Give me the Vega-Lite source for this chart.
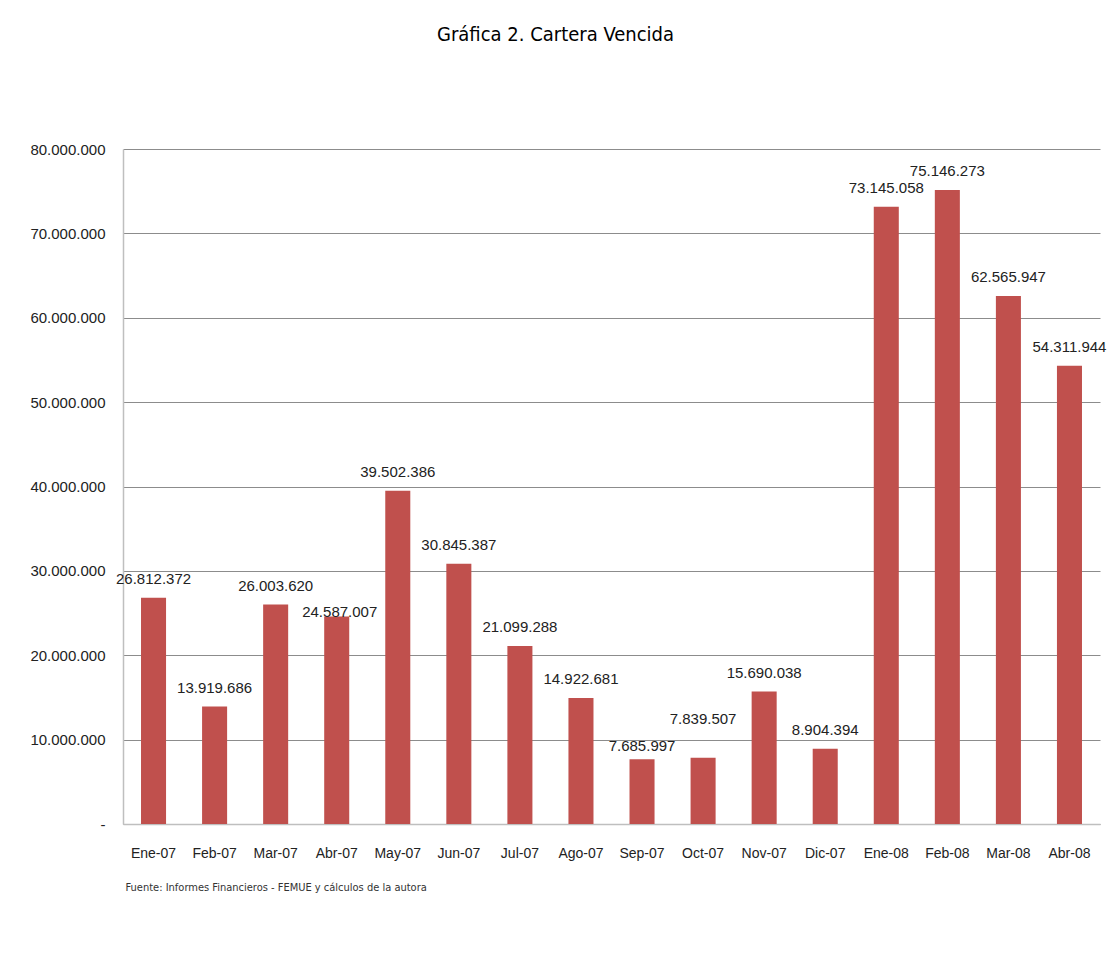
{
  "$schema": "https://vega.github.io/schema/vega-lite/v6.json",
  "width": 977,
  "height": 675,
  "autosize": {"type": "none"},
  "padding": {"left": 123, "top": 149, "right": 17, "bottom": 152},
  "background": "white",
  "config": {
    "locale": {"number": {"decimal": ",", "thousands": ".", "grouping": [3], "currency": ["$", ""]}},
    "view": {"stroke": null},
    "font": "Liberation Sans"
  },
  "title": {
    "text": "Gráfica 2.  Cartera Vencida",
    "anchor": "middle",
    "dx": -56,
    "offset": 97,
    "fontSize": 20,
    "font": "DejaVu Sans Condensed, Liberation Sans, sans-serif",
    "fontWeight": "normal",
    "color": "#000000"
  },
  "data": {
    "values": [
      {"mes": "Ene-07", "valor": 26812372},
      {"mes": "Feb-07", "valor": 13919686},
      {"mes": "Mar-07", "valor": 26003620},
      {"mes": "Abr-07", "valor": 24587007},
      {"mes": "May-07", "valor": 39502386},
      {"mes": "Jun-07", "valor": 30845387},
      {"mes": "Jul-07", "valor": 21099288},
      {"mes": "Ago-07", "valor": 14922681},
      {"mes": "Sep-07", "valor": 7685997},
      {"mes": "Oct-07", "valor": 7839507},
      {"mes": "Nov-07", "valor": 15690038},
      {"mes": "Dic-07", "valor": 8904394},
      {"mes": "Ene-08", "valor": 73145058},
      {"mes": "Feb-08", "valor": 75146273},
      {"mes": "Mar-08", "valor": 62565947},
      {"mes": "Abr-08", "valor": 54311944}
    ]
  },
  "encoding": {
    "x": {
      "field": "mes",
      "type": "nominal",
      "sort": null,
      "scale": {"paddingInner": 0.59, "paddingOuter": 0.295},
      "axis": {
        "title": "Fuente: Informes Financieros - FEMUE y cálculos de la autora",
        "titleAnchor": "start",
        "titleAlign": "left",
        "titleBaseline": "top",
        "titleX": 2,
        "titleY": 57,
        "titleFont": "DejaVu Sans Condensed, Liberation Sans, sans-serif",
        "titleFontSize": 11,
        "titleFontWeight": "normal",
        "titleColor": "#333333",
        "labelAngle": 0,
        "labelFontSize": 14,
        "labelColor": "#222222",
        "labelPadding": 22,
        "ticks": false,
        "domainColor": "#bfbfbf",
        "domainWidth": 1.5
      }
    },
    "y": {
      "field": "valor",
      "type": "quantitative",
      "scale": {"domain": [0, 80000000], "nice": false},
      "axis": {
        "title": null,
        "values": [0, 10000000, 20000000, 30000000, 40000000, 50000000, 60000000, 70000000, 80000000],
        "labelExpr": "datum.value == 0 ? '-' : format(datum.value, ',d')",
        "labelFontSize": 15,
        "labelColor": "#222222",
        "labelPadding": 18,
        "ticks": false,
        "domain": true,
        "domainColor": "#bfbfbf",
        "domainWidth": 1.5,
        "grid": true,
        "gridColor": "#8c8c8c",
        "gridWidth": 1
      }
    }
  },
  "layer": [
    {"mark": {"type": "bar", "color": "#C0504D"}},
    {
      "transform": [{"filter": "datum.mes != 'Abr-07' && datum.mes != 'Sep-07' && datum.mes != 'Oct-07'"}],
      "mark": {"type": "text", "baseline": "bottom", "dy": -11, "fontSize": 15, "color": "#222222"},
      "encoding": {"text": {"field": "valor", "type": "quantitative", "format": ",d"}}
    },
    {
      "transform": [{"filter": "datum.mes == 'Abr-07'"}],
      "mark": {"type": "text", "baseline": "bottom", "dy": 3, "dx": 3, "fontSize": 15, "color": "#222222"},
      "encoding": {"text": {"field": "valor", "type": "quantitative", "format": ",d"}}
    },
    {
      "transform": [{"filter": "datum.mes == 'Sep-07'"}],
      "mark": {"type": "text", "baseline": "bottom", "dy": -5, "fontSize": 15, "color": "#222222"},
      "encoding": {"text": {"field": "valor", "type": "quantitative", "format": ",d"}}
    },
    {
      "transform": [{"filter": "datum.mes == 'Oct-07'"}],
      "mark": {"type": "text", "baseline": "bottom", "dy": -31, "fontSize": 15, "color": "#222222"},
      "encoding": {"text": {"field": "valor", "type": "quantitative", "format": ",d"}}
    }
  ]
}
